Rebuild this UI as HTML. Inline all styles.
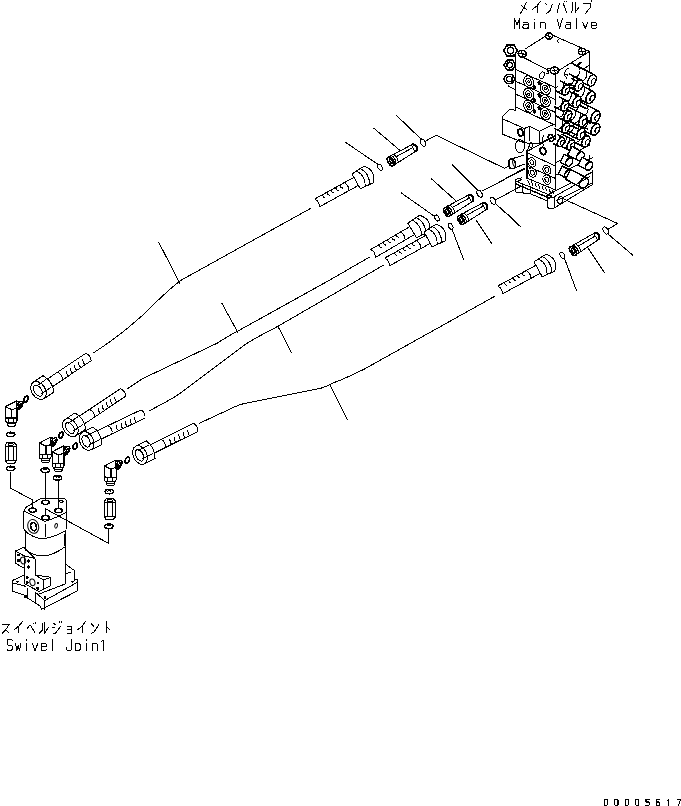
<!DOCTYPE html>
<html><head><meta charset="utf-8"><style>
html,body{margin:0;padding:0;background:#fff;width:681px;height:806px;overflow:hidden;font-family:"Liberation Sans",sans-serif;}
svg{display:block;}
</style></head><body>
<svg width="681" height="806" viewBox="0 0 681 806">
<g fill="none" stroke="#000" stroke-width="1" stroke-linecap="round" stroke-linejoin="round" shape-rendering="crispEdges">
<path d="M310.6,208.4 L181.6,279.9 C174,285 160,298 142.9,315 C128,328 118,337 93.5,352.8"/>
<path d="M369.7,257 L330,279.9 L238,331 C230,335 224,339 216.9,343.3 L142.9,378.5 L127,389"/>
<path d="M383.8,265 L278.6,325.9 C262,335 252,339 242,347 L180,393.5 C172,399 162,404 149.9,410.5"/>
<path d="M494.5,296.4 L363.9,369.3 C352,375 346,378 340.4,380.1 C332,383 328,386 321.6,388 L246.4,403.1 C241,404 238,405 234.6,406.9 L199.4,423.3"/>
<path d="M158.7,242.2 L179.9,283.4"/>
<path d="M222,303.5 L238,332.7"/>
<path d="M278.5,327.4 L291.6,352.8"/>
<path d="M329.6,384.3 L347.4,419.6"/>
<path d="M33,382.4 L43,375.7 L49.2,377.8 L85.9,353.2 L91.1,360.8 L54.4,385.4 L53.9,392 L44,398.6 Z" fill="#fff" stroke="none"/>
<ellipse cx="38.5" cy="390.5" rx="6.8" ry="9.8" transform="rotate(-33.8 38.5 390.5)" fill="#fff"/>
<ellipse cx="38" cy="390.8" rx="3.6" ry="6.2" transform="rotate(-33.8 38 390.8)"/>
<path d="M33,382.4 L43,375.7"/>
<path d="M44,398.6 L53.9,392"/>
<path d="M36.6,385.9 L45.7,379.7"/>
<path d="M41.8,393.6 L50.9,387.5"/>
<path d="M43,375.7 Q52.6,381 53.9,392"/>
<path d="M47.6,378.9 L57.5,372.2"/>
<path d="M52.7,386.5 L62.7,379.8"/>
<path d="M57.5,372.2 L85.9,353.2"/>
<path d="M62.7,379.8 L91.1,360.8"/>
<path d="M57.5,372.2 Q62.6,374.4 62.7,379.8"/>
<path d="M85.9,353.2 Q91,355.3 91.1,360.8"/>
<path d="M68.5,376 L66.8,374 L66.1,370.9"/>
<path d="M72.6,373.2 L71,371.3 L70.2,368.2"/>
<path d="M76.8,370.4 L75.1,368.5 L74.4,365.4"/>
<path d="M80.9,367.6 L79.3,365.7 L78.5,362.6"/>
<path d="M85.1,364.8 L83.5,362.9 L82.7,359.8"/>
<path d="M64.9,419.6 L74.9,412.9 L81.1,415 L120.4,388.7 L125.6,396.3 L86.3,422.6 L85.8,429.2 L75.9,435.8 Z" fill="#fff" stroke="none"/>
<ellipse cx="70.4" cy="427.7" rx="6.8" ry="9.8" transform="rotate(-33.8 70.4 427.7)" fill="#fff"/>
<ellipse cx="69.9" cy="428" rx="3.6" ry="6.2" transform="rotate(-33.8 69.9 428)"/>
<path d="M64.9,419.6 L74.9,412.9"/>
<path d="M75.9,435.8 L85.8,429.2"/>
<path d="M68.5,423.1 L77.6,417"/>
<path d="M73.7,430.8 L82.8,424.7"/>
<path d="M74.9,412.9 Q84.5,418.2 85.8,429.2"/>
<path d="M79.5,416.1 L89.4,409.4"/>
<path d="M84.6,423.7 L94.6,417.1"/>
<path d="M89.4,409.4 L120.4,388.7"/>
<path d="M94.6,417.1 L125.6,396.3"/>
<path d="M89.4,409.4 Q94.5,411.6 94.6,417.1"/>
<path d="M120.4,388.7 Q125.5,390.8 125.6,396.3"/>
<path d="M100.4,413.2 L98.7,411.3 L98,408.2"/>
<path d="M104.5,410.4 L102.9,408.5 L102.1,405.4"/>
<path d="M108.7,407.6 L107.1,405.7 L106.3,402.6"/>
<path d="M112.9,404.8 L111.2,402.9 L110.5,399.8"/>
<path d="M117,402 L115.4,400.1 L114.6,397"/>
<path d="M82.4,432.2 L93.2,427 L99,429.9 L141,409.9 L145,418.1 L103,438.2 L101.7,444.7 L90.8,449.8 Z" fill="#fff" stroke="none"/>
<ellipse cx="86.6" cy="441" rx="6.8" ry="9.8" transform="rotate(-25.6 86.6 441)" fill="#fff"/>
<ellipse cx="86.1" cy="441.3" rx="3.6" ry="6.2" transform="rotate(-25.6 86.1 441.3)"/>
<path d="M82.4,432.2 L93.2,427"/>
<path d="M90.8,449.8 L101.7,444.7"/>
<path d="M85.4,436.1 L95.3,431.4"/>
<path d="M89.4,444.5 L99.3,439.8"/>
<path d="M93.2,427 Q101.9,433.7 101.7,444.7"/>
<path d="M97.2,430.8 L108.1,425.6"/>
<path d="M101.2,439.1 L112,433.9"/>
<path d="M108.1,425.6 L141,409.9"/>
<path d="M112,433.9 L145,418.1"/>
<path d="M108.1,425.6 Q112.8,428.5 112,433.9"/>
<path d="M141,409.9 Q145.7,412.7 145,418.1"/>
<path d="M118.4,430.9 L117,428.8 L116.7,425.6"/>
<path d="M122.9,428.7 L121.5,426.6 L121.2,423.4"/>
<path d="M127.4,426.6 L126,424.5 L125.7,421.3"/>
<path d="M131.9,424.4 L130.5,422.3 L130.2,419.1"/>
<path d="M136.4,422.3 L135,420.1 L134.7,417"/>
<path d="M135.7,446.2 L146.4,440.9 L152.3,443.8 L193.6,423.4 L197.6,431.6 L156.4,452 L155.1,458.5 L144.3,463.8 Z" fill="#fff" stroke="none"/>
<ellipse cx="140" cy="455" rx="6.8" ry="9.8" transform="rotate(-26.3 140 455)" fill="#fff"/>
<ellipse cx="139.5" cy="455.3" rx="3.6" ry="6.2" transform="rotate(-26.3 139.5 455.3)"/>
<path d="M135.7,446.2 L146.4,440.9"/>
<path d="M144.3,463.8 L155.1,458.5"/>
<path d="M138.7,450.2 L148.6,445.3"/>
<path d="M142.9,458.5 L152.7,453.6"/>
<path d="M146.4,440.9 Q155.2,447.5 155.1,458.5"/>
<path d="M150.5,444.7 L161.3,439.3"/>
<path d="M154.6,452.9 L165.3,447.6"/>
<path d="M161.3,439.3 L193.6,423.4"/>
<path d="M165.3,447.6 L197.6,431.6"/>
<path d="M161.3,439.3 Q166,442.1 165.3,447.6"/>
<path d="M193.6,423.4 Q198.3,426.2 197.6,431.6"/>
<path d="M171.6,444.5 L170.2,442.4 L169.9,439.2"/>
<path d="M176.1,442.3 L174.7,440.2 L174.4,437"/>
<path d="M180.6,440.1 L179.2,438 L178.9,434.8"/>
<path d="M185.1,437.8 L183.7,435.7 L183.3,432.6"/>
<path d="M189.5,435.6 L188.2,433.5 L187.8,430.3"/>
<path d="M373,182.9 L373.6,171.7 L363.8,166.3 L351.5,173 L353.9,177.3 L314.8,199 L319.2,207 L358.4,185.4 L360.7,189.7 Z" fill="#fff" stroke="none"/>
<path d="M373,182.9 Q376.3,170.2 363.8,166.3"/>
<path d="M373,182.9 L360.3,188.8"/>
<path d="M363.8,166.3 L352,173.9"/>
<path d="M369.3,184.6 Q370.1,173.6 360.4,168.5"/>
<path d="M365.2,186.4 Q365.8,176 356.7,171"/>
<path d="M360.3,188.8 L352,173.9"/>
<path d="M358.4,185.4 L319.2,207"/>
<path d="M353.9,177.3 L314.8,199"/>
<path d="M348.7,190.7 Q349.1,185.2 344.3,182.7"/>
<path d="M319.2,207 Q319.6,201.5 314.8,199"/>
<path d="M339.9,185.1 L340.8,187.2 L342.5,188"/>
<path d="M335.5,187.5 L336.5,189.6 L338.1,190.4"/>
<path d="M331.1,189.9 L332.1,192 L333.8,192.8"/>
<path d="M326.8,192.3 L327.7,194.4 L329.4,195.2"/>
<path d="M322.4,194.8 L323.3,196.9 L325,197.6"/>
<path d="M429.1,231.7 L429.5,220.4 L419.5,215.3 L407.4,222.3 L409.9,226.6 L370.7,249.5 L375.3,257.5 L414.6,234.5 L417,238.7 Z" fill="#fff" stroke="none"/>
<path d="M429.1,231.7 Q432.1,218.9 419.5,215.3"/>
<path d="M429.1,231.7 L416.5,237.9"/>
<path d="M419.5,215.3 L407.9,223.2"/>
<path d="M425.5,233.4 Q426,222.5 416.2,217.5"/>
<path d="M421.4,235.4 Q421.7,225 412.5,220.1"/>
<path d="M416.5,237.9 L407.9,223.2"/>
<path d="M414.6,234.5 L375.3,257.5"/>
<path d="M409.9,226.6 L370.7,249.5"/>
<path d="M405.1,240.1 Q405.3,234.6 400.4,232.1"/>
<path d="M375.3,257.5 Q375.6,252 370.7,249.5"/>
<path d="M396.1,234.7 L397.1,236.7 L398.8,237.5"/>
<path d="M391.8,237.2 L392.8,239.3 L394.5,240"/>
<path d="M387.5,239.7 L388.5,241.8 L390.2,242.5"/>
<path d="M383.2,242.2 L384.1,244.3 L385.8,245.1"/>
<path d="M378.8,244.8 L379.8,246.8 L381.5,247.6"/>
<path d="M445,240.9 L445.6,229.7 L435.8,224.3 L423.5,231 L425.9,235.3 L384.8,258 L389.2,266 L430.3,243.4 L432.7,247.7 Z" fill="#fff" stroke="none"/>
<path d="M445,240.9 Q448.3,228.2 435.8,224.3"/>
<path d="M445,240.9 L432.2,246.8"/>
<path d="M435.8,224.3 L424,231.9"/>
<path d="M441.3,242.6 Q442.1,231.6 432.4,226.4"/>
<path d="M437.2,244.4 Q437.8,234 428.7,229"/>
<path d="M432.2,246.8 L424,231.9"/>
<path d="M430.3,243.4 L389.2,266"/>
<path d="M425.9,235.3 L384.8,258"/>
<path d="M420.7,248.7 Q421.1,243.2 416.3,240.6"/>
<path d="M389.2,266 Q389.6,260.6 384.8,258"/>
<path d="M411.9,243 L412.8,245.1 L414.5,245.9"/>
<path d="M407.5,245.4 L408.4,247.6 L410.1,248.3"/>
<path d="M403.1,247.9 L404.1,250 L405.7,250.8"/>
<path d="M398.7,250.3 L399.7,252.4 L401.4,253.2"/>
<path d="M394.4,252.7 L395.3,254.8 L397,255.6"/>
<path d="M554.9,271 L555.7,259.7 L545.9,254.3 L533.6,261 L535.9,265.3 L497.8,286 L502.2,294 L540.3,273.3 L542.6,277.6 Z" fill="#fff" stroke="none"/>
<path d="M554.9,271 Q558.3,258.3 545.9,254.3"/>
<path d="M554.9,271 L542.2,276.8"/>
<path d="M545.9,254.3 L534,261.8"/>
<path d="M551.3,272.6 Q552.2,261.7 542.5,256.4"/>
<path d="M547.1,274.4 Q547.8,264 538.7,258.9"/>
<path d="M542.2,276.8 L534,261.8"/>
<path d="M540.3,273.3 L502.2,294"/>
<path d="M535.9,265.3 L497.8,286"/>
<path d="M530.6,278.6 Q531.1,273.1 526.2,270.5"/>
<path d="M502.2,294 Q502.6,288.6 497.8,286"/>
<path d="M521.8,272.9 L522.8,275 L524.4,275.8"/>
<path d="M517.4,275.3 L518.4,277.4 L520.1,278.2"/>
<path d="M513.1,277.7 L514,279.8 L515.7,280.6"/>
<path d="M508.7,280.1 L509.6,282.2 L511.3,283"/>
<path d="M504.3,282.4 L505.2,284.6 L506.9,285.4"/>
<ellipse cx="390.7" cy="161.4" rx="2.6" ry="4.9" transform="rotate(-30.1 390.7 161.4)" stroke-width="1.8"/>
<ellipse cx="391" cy="161.2" rx="1.2" ry="2.4" transform="rotate(-30.1 391 161.2)" stroke-width="1.6"/>
<path d="M391.3,155.5 Q395.9,158.4 396.1,163.8" stroke-width="1.2"/>
<path d="M393.6,154.4 Q398.1,157.1 398.2,162.4"/>
<path d="M388.2,157.2 L412.6,144.3"/>
<path d="M393.2,165.6 L416.4,150.9"/>
<path d="M396.1,156.8 L412.3,147.9"/>
<path d="M412.6,144.3 Q418.4,145.3 416.4,150.9" stroke-width="2.2"/>
<path d="M411.3,145.1 L415.1,151.6"/>
<ellipse cx="447" cy="212" rx="2.6" ry="4.9" transform="rotate(-30.3 447 212)" stroke-width="1.8"/>
<ellipse cx="447.3" cy="211.8" rx="1.2" ry="2.4" transform="rotate(-30.3 447.3 211.8)" stroke-width="1.6"/>
<path d="M447.6,206.1 Q452.2,209 452.4,214.4" stroke-width="1.2"/>
<path d="M449.9,205 Q454.3,207.7 454.5,213"/>
<path d="M444.5,207.8 L469.1,194.7"/>
<path d="M449.5,216.2 L472.9,201.3"/>
<path d="M452.4,207.4 L468.8,198.3"/>
<path d="M469.1,194.7 Q474.9,195.7 472.9,201.3" stroke-width="2.2"/>
<path d="M467.8,195.5 L471.6,202"/>
<ellipse cx="461" cy="220" rx="2.6" ry="4.9" transform="rotate(-30.3 461 220)" stroke-width="1.8"/>
<ellipse cx="461.3" cy="219.8" rx="1.2" ry="2.4" transform="rotate(-30.3 461.3 219.8)" stroke-width="1.6"/>
<path d="M461.6,214.1 Q466.2,217 466.4,222.4" stroke-width="1.2"/>
<path d="M463.9,213 Q468.3,215.7 468.5,221"/>
<path d="M458.5,215.8 L483.1,202.7"/>
<path d="M463.5,224.2 L486.9,209.3"/>
<path d="M466.4,215.4 L482.8,206.3"/>
<path d="M483.1,202.7 Q488.9,203.7 486.9,209.3" stroke-width="2.2"/>
<path d="M481.8,203.5 L485.6,210"/>
<ellipse cx="573" cy="251" rx="2.6" ry="4.9" transform="rotate(-32 573 251)" stroke-width="1.8"/>
<ellipse cx="573.3" cy="250.8" rx="1.2" ry="2.4" transform="rotate(-32 573.3 250.8)" stroke-width="1.6"/>
<path d="M573.4,245.1 Q578.1,247.8 578.5,253.2" stroke-width="1.2"/>
<path d="M575.6,243.9 Q580.2,246.5 580.5,251.7"/>
<path d="M570.4,246.8 L595,232.8"/>
<path d="M575.6,255.2 L599,239.2"/>
<path d="M578.3,246.2 L594.8,236.3"/>
<path d="M595,232.8 Q600.8,233.6 599,239.2" stroke-width="2.2"/>
<path d="M593.7,233.6 L597.7,240"/>
<ellipse cx="423" cy="142.6" rx="2.3" ry="3.9" transform="rotate(-30 423 142.6)"/>
<ellipse cx="380" cy="167.3" rx="2" ry="3.3" transform="rotate(-30 380 167.3)"/>
<ellipse cx="437" cy="218" rx="2" ry="3.3" transform="rotate(-30 437 218)"/>
<ellipse cx="479.6" cy="193.7" rx="2.3" ry="3.9" transform="rotate(-30 479.6 193.7)"/>
<ellipse cx="492.9" cy="200.8" rx="2.3" ry="3.9" transform="rotate(-30 492.9 200.8)"/>
<ellipse cx="450.6" cy="226.3" rx="2" ry="3.3" transform="rotate(-30 450.6 226.3)"/>
<ellipse cx="605.7" cy="230.5" rx="2.3" ry="3.9" transform="rotate(-30 605.7 230.5)"/>
<ellipse cx="562.3" cy="255.2" rx="2" ry="3.3" transform="rotate(-30 562.3 255.2)"/>
<path d="M396.2,115.1 L420.5,138.6"/>
<path d="M426,140.8 L436.2,135.3 L504.3,168.2 L510.5,165.5"/>
<path d="M374,128.4 L399.5,150"/>
<path d="M345,142 L377.9,164.3"/>
<path d="M401.4,193 L435,216.7"/>
<path d="M431.4,178.8 L456,200.8"/>
<path d="M452.3,164.7 L477.9,190.2"/>
<path d="M482.3,191 L524.6,169"/>
<path d="M495.5,200 L521.3,186"/>
<path d="M496.4,204.3 L521,227.2"/>
<path d="M476,220 L492,244"/>
<path d="M440,186.7 L455.9,200.8"/>
<path d="M452.3,229.9 L463.8,260"/>
<path d="M500,208 L514,219.7"/>
<path d="M500,181.6 L524.2,168.4"/>
<path d="M563.4,198.8 L617.5,223.5 L608,229.3"/>
<path d="M608,234 L632.8,255.2"/>
<path d="M588,248 L604.6,272.8"/>
<path d="M564.6,258.7 L576.4,290.4"/>
<path d="M5.3,406.8 L9.4,404.4 L16.5,400.9 L21.7,404.9 L21.7,408 L17,410.9 L17,420.3 L16.5,422 L15.3,426.1 L7,426.1 L5.9,422 L5.3,421.4 Z" fill="#fff" stroke="none"/>
<path d="M5.3,421.4 L5.3,406.8 L9.4,404.4 L16.5,400.9 L18.8,401.5" stroke-width="1.2"/>
<path d="M5.3,406.8 L11.8,409.7 L17,408 L18.3,406.9" stroke-width="1.2"/>
<path d="M11.8,409.7 L11.8,417.7" stroke-width="1.2"/>
<path d="M17,410.3 L17,420.3" stroke-width="1.2"/>
<ellipse cx="19.7" cy="405.5" rx="2.4" ry="4.6" transform="rotate(30 19.7 405.5)" stroke-width="1.4" fill="#fff"/>
<path d="M17.1,401.3 Q15.5,405.4 17.9,409.7" stroke-width="1.4"/>
<path d="M18.5,401.1 Q17.1,405.4 19.3,409.7"/>
<ellipse cx="20.3" cy="405.3" rx="0.8" ry="2" transform="rotate(30 20.3 405.3)" stroke-width="1.2"/>
<path d="M19.8,408.4 L17,410.5"/>
<path d="M5.3,417.3 L6.3,417.9 L17,417.9 L17,417.3" stroke-width="1.2"/>
<path d="M5.3,421.4 L6.5,422.2 L16.1,422.2 L17,420.3" stroke-width="1.2"/>
<path d="M8.5,418.1 L8.5,421.9"/>
<path d="M13.5,418.1 L13.5,421.9"/>
<path d="M7,422.2 L7.3,425.2 L8.3,426.1 L14.3,426.1 L15.3,425.2 L15.3,422.2" stroke-width="1.2"/>
<path d="M7.3,423.9 L15.3,423.9"/>
<path d="M39.4,443.2 L43.5,440.8 L50.6,437.3 L55.8,441.3 L55.8,444.4 L51.1,447.3 L51.1,456.7 L50.6,458.4 L49.4,462.5 L41.1,462.5 L40,458.4 L39.4,457.8 Z" fill="#fff" stroke="none"/>
<path d="M39.4,457.8 L39.4,443.2 L43.5,440.8 L50.6,437.3 L52.9,437.9" stroke-width="1.2"/>
<path d="M39.4,443.2 L45.9,446.1 L51.1,444.4 L52.4,443.3" stroke-width="1.2"/>
<path d="M45.9,446.1 L45.9,454.1" stroke-width="1.2"/>
<path d="M51.1,446.7 L51.1,456.7" stroke-width="1.2"/>
<ellipse cx="53.8" cy="441.9" rx="2.4" ry="4.6" transform="rotate(30 53.8 441.9)" stroke-width="1.4" fill="#fff"/>
<path d="M51.2,437.7 Q49.6,441.8 52,446.1" stroke-width="1.4"/>
<path d="M52.6,437.5 Q51.2,441.8 53.4,446.1"/>
<ellipse cx="54.4" cy="441.7" rx="0.8" ry="2" transform="rotate(30 54.4 441.7)" stroke-width="1.2"/>
<path d="M53.9,444.8 L51.1,446.9"/>
<path d="M39.4,453.7 L40.4,454.3 L51.1,454.3 L51.1,453.7" stroke-width="1.2"/>
<path d="M39.4,457.8 L40.6,458.6 L50.2,458.6 L51.1,456.7" stroke-width="1.2"/>
<path d="M42.6,454.5 L42.6,458.3"/>
<path d="M47.6,454.5 L47.6,458.3"/>
<path d="M41.1,458.6 L41.4,461.6 L42.4,462.5 L48.4,462.5 L49.4,461.6 L49.4,458.6" stroke-width="1.2"/>
<path d="M41.4,460.3 L49.4,460.3"/>
<path d="M52.3,452 L56.4,449.6 L63.5,446.1 L68.7,450.1 L68.7,453.2 L64,456.1 L64,465.5 L63.5,467.2 L62.3,471.3 L54,471.3 L52.9,467.2 L52.3,466.6 Z" fill="#fff" stroke="none"/>
<path d="M52.3,466.6 L52.3,452 L56.4,449.6 L63.5,446.1 L65.8,446.7" stroke-width="1.2"/>
<path d="M52.3,452 L58.8,454.9 L64,453.2 L65.3,452.1" stroke-width="1.2"/>
<path d="M58.8,454.9 L58.8,462.9" stroke-width="1.2"/>
<path d="M64,455.5 L64,465.5" stroke-width="1.2"/>
<ellipse cx="66.7" cy="450.7" rx="2.4" ry="4.6" transform="rotate(30 66.7 450.7)" stroke-width="1.4" fill="#fff"/>
<path d="M64.1,446.5 Q62.5,450.6 64.9,454.9" stroke-width="1.4"/>
<path d="M65.5,446.3 Q64.1,450.6 66.3,454.9"/>
<ellipse cx="67.3" cy="450.5" rx="0.8" ry="2" transform="rotate(30 67.3 450.5)" stroke-width="1.2"/>
<path d="M66.8,453.6 L64,455.7"/>
<path d="M52.3,462.5 L53.3,463.1 L64,463.1 L64,462.5" stroke-width="1.2"/>
<path d="M52.3,466.6 L53.5,467.4 L63.1,467.4 L64,465.5" stroke-width="1.2"/>
<path d="M55.5,463.3 L55.5,467.1"/>
<path d="M60.5,463.3 L60.5,467.1"/>
<path d="M54,467.4 L54.3,470.4 L55.3,471.3 L61.3,471.3 L62.3,470.4 L62.3,467.4" stroke-width="1.2"/>
<path d="M54.3,469.1 L62.3,469.1"/>
<path d="M104.5,466.1 L108.6,463.7 L115.7,460.2 L120.9,464.2 L120.9,467.3 L116.2,470.2 L116.2,479.6 L115.7,481.3 L114.5,485.4 L106.2,485.4 L105.1,481.3 L104.5,480.7 Z" fill="#fff" stroke="none"/>
<path d="M104.5,480.7 L104.5,466.1 L108.6,463.7 L115.7,460.2 L118,460.8" stroke-width="1.2"/>
<path d="M104.5,466.1 L111,469 L116.2,467.3 L117.5,466.2" stroke-width="1.2"/>
<path d="M111,469 L111,477" stroke-width="1.2"/>
<path d="M116.2,469.6 L116.2,479.6" stroke-width="1.2"/>
<ellipse cx="118.9" cy="464.8" rx="2.4" ry="4.6" transform="rotate(30 118.9 464.8)" stroke-width="1.4" fill="#fff"/>
<path d="M116.3,460.6 Q114.7,464.7 117.1,469" stroke-width="1.4"/>
<path d="M117.7,460.4 Q116.3,464.7 118.5,469"/>
<ellipse cx="119.5" cy="464.6" rx="0.8" ry="2" transform="rotate(30 119.5 464.6)" stroke-width="1.2"/>
<path d="M119,467.7 L116.2,469.8"/>
<path d="M104.5,476.6 L105.5,477.2 L116.2,477.2 L116.2,476.6" stroke-width="1.2"/>
<path d="M104.5,480.7 L105.7,481.5 L115.3,481.5 L116.2,479.6" stroke-width="1.2"/>
<path d="M107.7,477.4 L107.7,481.2"/>
<path d="M112.7,477.4 L112.7,481.2"/>
<path d="M106.2,481.5 L106.5,484.5 L107.5,485.4 L113.5,485.4 L114.5,484.5 L114.5,481.5" stroke-width="1.2"/>
<path d="M106.5,483.2 L114.5,483.2"/>
<ellipse cx="25.9" cy="399.1" rx="1.9" ry="3.2" transform="rotate(25 25.9 399.1)" stroke-width="1.7"/>
<ellipse cx="61.1" cy="435" rx="1.9" ry="3.2" transform="rotate(25 61.1 435)" stroke-width="1.7"/>
<ellipse cx="75.2" cy="446.1" rx="1.9" ry="3.2" transform="rotate(25 75.2 446.1)" stroke-width="1.7"/>
<ellipse cx="127.3" cy="460.2" rx="1.9" ry="3.2" transform="rotate(25 127.3 460.2)" stroke-width="1.7"/>
<ellipse cx="10.6" cy="434.4" rx="4.2" ry="2.2" stroke-width="1.5"/>
<path d="M9.1,433.9 L10.6,432.8 L12.1,433.9" stroke-width="1.2"/>
<ellipse cx="10.6" cy="468.4" rx="4.2" ry="2.2" stroke-width="1.5"/>
<path d="M9.1,467.9 L10.6,466.8 L12.1,467.9" stroke-width="1.2"/>
<ellipse cx="45.2" cy="470.2" rx="4.2" ry="2.2" stroke-width="1.5"/>
<path d="M43.7,469.7 L45.2,468.6 L46.7,469.7" stroke-width="1.2"/>
<ellipse cx="57.6" cy="477.8" rx="4.2" ry="2.2" stroke-width="1.5"/>
<path d="M56.1,477.3 L57.6,476.2 L59.1,477.3" stroke-width="1.2"/>
<ellipse cx="109.3" cy="491.6" rx="4.2" ry="2.2" stroke-width="1.5"/>
<path d="M107.8,491.1 L109.3,490 L110.8,491.1" stroke-width="1.2"/>
<ellipse cx="108.8" cy="526.3" rx="4.2" ry="2.2" stroke-width="1.5"/>
<path d="M107.3,525.8 L108.8,524.7 L110.3,525.8" stroke-width="1.2"/>
<path d="M5.3,445 L7.3,442.5 L14.3,442.5 L16.3,445 L16.3,460.5 L14.3,463.5 L7.3,463.5 L5.3,460.5 Z" stroke-width="1.3"/>
<path d="M5.8,446.5 L15.8,446.5"/>
<path d="M8.3,446.5 L8.3,460"/>
<path d="M13.8,446.5 L13.8,460"/>
<path d="M6.3,460.5 L15.3,460.5"/>
<ellipse cx="10.8" cy="444.5" rx="2.5" ry="1.2"/>
<path d="M104.3,501.2 L106.3,498.7 L113.3,498.7 L115.3,501.2 L115.3,516.7 L113.3,519.7 L106.3,519.7 L104.3,516.7 Z" stroke-width="1.3"/>
<path d="M104.8,502.7 L114.8,502.7"/>
<path d="M107.3,502.7 L107.3,516.2"/>
<path d="M112.8,502.7 L112.8,516.2"/>
<path d="M105.3,516.7 L114.3,516.7"/>
<ellipse cx="109.8" cy="500.7" rx="2.5" ry="1.2"/>
<path d="M10.4,472 L10.4,488.1 L32.6,500 L32.6,507.6"/>
<path d="M45,473 L45,501"/>
<path d="M58.2,479.5 L58.2,508.5"/>
<path d="M45.5,515.3 L45.5,508.8 L108.8,543.5 L108.8,528.8"/>
<path d="M23.8,511.1 L25.6,507.6 L30.3,504.7 L40.2,498.8 L63.7,498.2 L66.7,500.6 L66.7,511.7"/>
<path d="M66.7,511.7 C64,514 61,516 44.9,521.5 L23.8,511.1"/>
<path d="M23.8,511.1 L23.2,527.6 C25,532 30,536 40.2,538.8 C48,539 56,536 64.9,531.1"/>
<path d="M66.7,511.7 L66.7,528.8"/>
<path d="M45.5,524 L45.5,536.4"/>
<ellipse cx="32.6" cy="510.2" rx="3.6" ry="2.1" stroke-width="1.4"/>
<ellipse cx="45.5" cy="502.3" rx="3.6" ry="2.1" stroke-width="1.4"/>
<ellipse cx="58.5" cy="510.6" rx="3.6" ry="2.1" stroke-width="1.4"/>
<ellipse cx="45.5" cy="517.6" rx="3.6" ry="2.1" stroke-width="1.4"/>
<ellipse cx="61.4" cy="501.2" rx="1.8" ry="1.2"/>
<ellipse cx="33.2" cy="526.4" rx="5.4" ry="7" transform="rotate(-15 33.2 526.4)"/>
<ellipse cx="33.6" cy="526.6" rx="2.8" ry="4.2" transform="rotate(-15 33.6 526.6)" stroke-width="1.8"/>
<ellipse cx="56.1" cy="525.8" rx="1.3" ry="2.4" transform="rotate(15 56.1 525.8)"/>
<path d="M25.4,532 L25.4,550.6"/>
<path d="M65.2,530 L65.2,583.6"/>
<path d="M64,534 L64,546"/>
<path d="M25.6,549 C30,554 36,556 43.6,556 C52,555 58,552 64.9,547"/>
<path d="M15.2,563.1 L15.2,551.2 L23.8,547.3 L35,558.5 L35,575 L50.9,577.3 L50.9,585.6 L39,591.5 L24.4,583.5 L24.4,568.4 L15.2,563.1"/>
<path d="M15.2,551.2 L24.5,556 L24.5,568.4"/>
<path d="M24.5,556 L35,558.5"/>
<path d="M35,575 L43.6,580 L50.9,577.3"/>
<path d="M43.6,580 L43.6,590"/>
<ellipse cx="23.1" cy="560.5" rx="2.5" ry="3.4" transform="rotate(-15 23.1 560.5)"/>
<ellipse cx="32.4" cy="582.3" rx="2.5" ry="3.4" transform="rotate(-15 32.4 582.3)"/>
<ellipse cx="18.5" cy="560.5" rx="1" ry="1.2" fill="#000"/>
<ellipse cx="28.4" cy="561.1" rx="1" ry="1.2" fill="#000"/>
<ellipse cx="28.4" cy="567.1" rx="1" ry="1.2" fill="#000"/>
<ellipse cx="27.1" cy="577.7" rx="1" ry="1.2" fill="#000"/>
<ellipse cx="27.1" cy="582.3" rx="1" ry="1.2" fill="#000"/>
<ellipse cx="37.7" cy="588.2" rx="1" ry="1.2" fill="#000"/>
<ellipse cx="18.5" cy="555.2" rx="0.8" ry="0.8"/>
<ellipse cx="37.7" cy="583" rx="0.8" ry="0.8"/>
<path d="M12.2,580.6 L23.9,575.3"/>
<path d="M12.2,580.6 L12.2,591.2 L23.9,594.9 L26,597 L40.2,606 L41.8,609.2 L77.8,590.7 L77.8,580.1 L74.6,579"/>
<path d="M12.2,582.7 L26,586.4"/>
<path d="M27.6,588.5 L27.6,597.5"/>
<path d="M35,592 L35,602"/>
<path d="M44.5,600.7 L44.5,609.7"/>
<path d="M39.7,593.8 L65.2,584"/>
<path d="M35,592 L40.8,597 L44.5,600.7 L76.7,582.7"/>
<path d="M65.6,564.2 L74.6,570.6 L74.6,580.1"/>
<path d="M65.6,573.7 L70.4,572.2"/>
<ellipse cx="45" cy="597.5" rx="0.9" ry="0.9" fill="#000"/>
<ellipse cx="17.5" cy="581.7" rx="0.7" ry="0.7" fill="#000"/>
<ellipse cx="72.5" cy="581.7" rx="0.7" ry="0.7" fill="#000"/>
<ellipse cx="25.4" cy="596.5" rx="1" ry="1" fill="#000"/>
<path d="M525.2,49 L544.6,36.7"/>
<path d="M553.4,35.5 L589.6,51.5"/>
<path d="M589.6,51.5 L557,71.5"/>
<path d="M550,71.1 L524.4,57.9"/>
<path d="M515.4,54.7 L515.4,109" stroke-width="1.5"/>
<path d="M555.7,72 L555.7,190"/>
<path d="M589.6,51.5 L589.6,95"/>
<path d="M515.4,69.2 L555.7,87.9"/>
<path d="M555.7,87.9 L589.6,64.8"/>
<ellipse cx="542" cy="75.3" rx="2.2" ry="3.5" transform="rotate(20 542 75.3)"/>
<path d="M549.5,68.5 L547,68.5 L547,71 L549,71.5 L548.5,73.5 L546.5,73.5"/>
<ellipse cx="567.8" cy="72.9" rx="3" ry="4.5" transform="rotate(20 567.8 72.9)"/>
<path d="M581,62.5 Q577,64 578,68 Q579,69 581,68" stroke-width="2"/>
<path d="M559,39.5 Q556.5,41 558.5,42.5"/>
<path d="M515.4,81.1 L555.7,99.6"/>
<path d="M515.4,94 L555.7,112.5"/>
<path d="M515.4,106.9 L555.7,125.4"/>
<ellipse cx="528.7" cy="81.9" rx="4.8" ry="6.3" transform="rotate(-25 528.7 81.9)"/>
<ellipse cx="528.7" cy="81.9" rx="2.6" ry="3.7" transform="rotate(-25 528.7 81.9)"/>
<ellipse cx="528.7" cy="81.9" rx="0.8" ry="1.3" transform="rotate(-25 528.7 81.9)"/>
<ellipse cx="528.7" cy="94.4" rx="4.8" ry="6.3" transform="rotate(-25 528.7 94.4)"/>
<ellipse cx="528.7" cy="94.4" rx="2.6" ry="3.7" transform="rotate(-25 528.7 94.4)"/>
<ellipse cx="528.7" cy="94.4" rx="0.8" ry="1.3" transform="rotate(-25 528.7 94.4)"/>
<ellipse cx="528.7" cy="106.1" rx="4.8" ry="6.3" transform="rotate(-25 528.7 106.1)"/>
<ellipse cx="528.7" cy="106.1" rx="2.6" ry="3.7" transform="rotate(-25 528.7 106.1)"/>
<ellipse cx="528.7" cy="106.1" rx="0.8" ry="1.3" transform="rotate(-25 528.7 106.1)"/>
<ellipse cx="545.3" cy="88.7" rx="4.8" ry="6.3" transform="rotate(-25 545.3 88.7)"/>
<ellipse cx="545.3" cy="88.7" rx="2.6" ry="3.7" transform="rotate(-25 545.3 88.7)"/>
<ellipse cx="545.3" cy="88.7" rx="0.8" ry="1.3" transform="rotate(-25 545.3 88.7)"/>
<ellipse cx="545.3" cy="100.8" rx="4.8" ry="6.3" transform="rotate(-25 545.3 100.8)"/>
<ellipse cx="545.3" cy="100.8" rx="2.6" ry="3.7" transform="rotate(-25 545.3 100.8)"/>
<ellipse cx="545.3" cy="100.8" rx="0.8" ry="1.3" transform="rotate(-25 545.3 100.8)"/>
<ellipse cx="545.3" cy="113.8" rx="4.8" ry="6.3" transform="rotate(-25 545.3 113.8)"/>
<ellipse cx="545.3" cy="113.8" rx="2.6" ry="3.7" transform="rotate(-25 545.3 113.8)"/>
<ellipse cx="545.3" cy="113.8" rx="0.8" ry="1.3" transform="rotate(-25 545.3 113.8)"/>
<ellipse cx="534.3" cy="87.1" rx="1.1" ry="1.8" transform="rotate(-25 534.3 87.1)" stroke-width="1.2" fill="#000"/>
<ellipse cx="534.3" cy="100" rx="1.1" ry="1.8" transform="rotate(-25 534.3 100)" stroke-width="1.2" fill="#000"/>
<ellipse cx="534.3" cy="111.3" rx="1.1" ry="1.8" transform="rotate(-25 534.3 111.3)" stroke-width="1.2" fill="#000"/>
<ellipse cx="539.2" cy="83.1" rx="1.1" ry="1.8" transform="rotate(-25 539.2 83.1)" stroke-width="1.2" fill="#000"/>
<ellipse cx="539.2" cy="95.2" rx="1.1" ry="1.8" transform="rotate(-25 539.2 95.2)" stroke-width="1.2" fill="#000"/>
<ellipse cx="539.2" cy="108.1" rx="1.1" ry="1.8" transform="rotate(-25 539.2 108.1)" stroke-width="1.2" fill="#000"/>
<path d="M514.9,79 L512.1,83.6 L506.5,83.6 L503.7,79 L506.5,74.4 L512.1,74.4 Z" fill="#fff" stroke="#000" stroke-width="1.5"/>
<path d="M512,80.5 L509.3,81.9 L506.6,80.5 L506.6,77.5 L509.3,76.1 L512,77.5 Z" fill="none" stroke="#000" stroke-width="1.2"/>
<path d="M506.5,74.5 L507.6,77.3"/>
<path d="M512.1,83.5 L511,80.7"/>
<path d="M515.6,65 L512.7,69.8 L506.9,69.8 L504,65 L506.9,60.2 L512.7,60.2 Z" fill="#fff" stroke="#000" stroke-width="1.5"/>
<path d="M512.6,66.5 L509.8,68 L507,66.5 L507,63.5 L509.8,62 L512.6,63.5 Z" fill="none" stroke="#000" stroke-width="1.2"/>
<path d="M506.9,60.4 L508.1,63.3"/>
<path d="M512.7,69.6 L511.5,66.7"/>
<path d="M508.5,86 L515.4,90"/>
<path d="M517.3,50.5 L513.9,56.1 L507.1,56.1 L503.7,50.5 L507.1,44.9 L513.9,44.9 Z" fill="#fff" stroke="#000" stroke-width="1.6"/>
<path d="M513.7,52.3 L510.5,54.1 L507.3,52.3 L507.3,48.7 L510.5,46.9 L513.7,48.7 Z" fill="none" stroke="#000" stroke-width="1.2"/>
<path d="M507.1,45.1 L508.5,48.5"/>
<path d="M513.9,55.9 L512.5,52.5"/>
<ellipse cx="522.2" cy="53.8" rx="4" ry="3.4" stroke-width="1.6" fill="#fff"/>
<path d="M520,53.5 L524.4,54.1" stroke-width="1.2"/>
<path d="M521.4,51.4 L523,56.2"/>
<ellipse cx="548.9" cy="36.1" rx="3.6" ry="3.1" stroke-width="1.6" fill="#fff"/>
<path d="M546.9,35.8 L550.9,36.4" stroke-width="1.2"/>
<path d="M548.2,33.9 L549.6,38.3"/>
<ellipse cx="582" cy="51.5" rx="3.6" ry="3.1" stroke-width="1.6" fill="#fff"/>
<path d="M580,51.2 L584,51.8" stroke-width="1.2"/>
<path d="M581.3,49.3 L582.7,53.7"/>
<ellipse cx="554.4" cy="70.5" rx="4" ry="3.4" stroke-width="1.6" fill="#fff"/>
<path d="M552.2,70.2 L556.6,70.8" stroke-width="1.2"/>
<path d="M553.6,68.1 L555.2,72.9"/>
<path d="M502.4,116.5 L509.3,109.7 L512.5,109.3 L515.4,110.5"/>
<path d="M502.4,116.5 L502.4,134.2 L524.4,143 L524.4,128.5 L502.4,118.8"/>
<path d="M524.4,128.5 L529.3,126.3 L539.4,131.2 L555.7,123.5"/>
<path d="M529.3,126.3 L529.3,141"/>
<path d="M539.4,131.2 L539.4,143.5"/>
<path d="M524.4,141.7 L529.3,144 L539.4,143.5 L555.7,135"/>
<ellipse cx="520.5" cy="132.5" rx="2.6" ry="3.6" transform="rotate(-20 520.5 132.5)" stroke-width="1.8"/>
<ellipse cx="520" cy="146.1" rx="4.5" ry="6.5"/>
<path d="M544,135 Q540,140 544,146"/>
<ellipse cx="551" cy="138" rx="2.6" ry="3.6" transform="rotate(-20 551 138)" stroke-width="1.5"/>
<path d="M527,151.4 L547.3,140.4 L555.7,136"/>
<path d="M529,146 L527,151.4"/>
<ellipse cx="543" cy="151" rx="2.8" ry="3.8" transform="rotate(-25 543 151)" stroke-width="1.8"/>
<ellipse cx="531" cy="145" rx="1.5" ry="2.5"/>
<path d="M526.6,151.4 L526.6,178" stroke-width="2"/>
<path d="M528,153.2 L556,166.4"/>
<path d="M528,166.4 L555.7,178.5"/>
<path d="M526.6,178 L555.7,190"/>
<ellipse cx="531.9" cy="162.4" rx="3.8" ry="4.8" transform="rotate(-25 531.9 162.4)"/>
<ellipse cx="531.9" cy="162.4" rx="1.8" ry="2.6" transform="rotate(-25 531.9 162.4)"/>
<ellipse cx="532.4" cy="172.6" rx="3.8" ry="4.8" transform="rotate(-25 532.4 172.6)"/>
<ellipse cx="532.4" cy="172.6" rx="1.8" ry="2.6" transform="rotate(-25 532.4 172.6)"/>
<ellipse cx="546.9" cy="169.9" rx="3.8" ry="4.8" transform="rotate(-25 546.9 169.9)"/>
<ellipse cx="546.9" cy="169.9" rx="1.8" ry="2.6" transform="rotate(-25 546.9 169.9)"/>
<ellipse cx="546.9" cy="179.6" rx="3.8" ry="4.8" transform="rotate(-25 546.9 179.6)"/>
<ellipse cx="546.9" cy="179.6" rx="1.8" ry="2.6" transform="rotate(-25 546.9 179.6)"/>
<path d="M512,158.8 L524,155"/>
<path d="M512,168.8 L525,164"/>
<ellipse cx="512" cy="163.8" rx="3.4" ry="5" transform="rotate(-15 512 163.8)" stroke-width="1.6" fill="#fff"/>
<path d="M509.5,160 Q508,164 510,168" stroke-width="1.6"/>
<ellipse cx="514" cy="163.3" rx="1.2" ry="3.2" transform="rotate(-15 514 163.3)"/>
<path d="M515.4,179.4 L521.3,177.9"/>
<path d="M515.4,179.4 L515.4,191.9 L530.8,194 L547,200.7"/>
<path d="M515.4,181 L548.5,194.5 L592.5,172"/>
<path d="M547,194 L547,207.3 L550,208.7 L554.3,208 L592.5,184.5 L592.5,172"/>
<path d="M522.8,183 L522.8,193"/>
<path d="M530.8,186 L530.8,194"/>
<path d="M554.3,197 L554.3,208"/>
<ellipse cx="560.2" cy="200" rx="2.5" ry="3.5" transform="rotate(20 560.2 200)"/>
<ellipse cx="549" cy="196.5" rx="2" ry="1.5" stroke-width="1.5"/>
<path d="M567.2,125.4 L588.6,136.3 L583.4,146.7 L562,135.8 Z" fill="#fff" stroke="none"/>
<path d="M567.2,125.4 L588.6,136.3" stroke-width="1.5"/>
<path d="M562,135.8 L583.4,146.7" stroke-width="1.5"/>
<path d="M581.1,132.5 Q582.6,139.8 575.9,142.9"/>
<path d="M574.7,129.2 Q576.2,136.5 569.5,139.6"/>
<ellipse cx="586" cy="141.5" rx="3.6" ry="5.8" transform="rotate(27 586 141.5)" stroke-width="1.5" fill="#fff"/>
<path d="M588.4,139.4 Q584.4,140.7 585.7,144.6" stroke-width="1.2"/>
<path d="M561.9,134.2 L573.5,140.1 L568.5,149.9 L556.9,144 Z" fill="#fff" stroke="none"/>
<path d="M561.9,134.2 L573.5,140.1" stroke-width="1.5"/>
<path d="M556.9,144 L568.5,149.9" stroke-width="1.5"/>
<path d="M569.4,138 Q570.9,144.9 564.4,147.8"/>
<path d="M566,136.3 Q567.4,143.2 561,146.1"/>
<ellipse cx="571" cy="145" rx="3.4" ry="5.5" transform="rotate(27 571 145)" stroke-width="1.5" fill="#fff"/>
<path d="M573.2,143 Q569.5,144.3 570.7,147.9" stroke-width="1.2"/>
<path d="M568,108.5 L598.3,124 L592.7,135 L562.4,119.6 Z" fill="#fff" stroke="none"/>
<path d="M568,108.5 L598.3,124" stroke-width="1.5"/>
<path d="M562.4,119.6 L592.7,135" stroke-width="1.5"/>
<path d="M587.7,118.6 Q589.3,126.3 582.1,129.6"/>
<path d="M578.6,113.9 Q580.2,121.7 573,125"/>
<path d="M590.5,123.5 L585.1,120.7" stroke-width="1.6"/>
<path d="M587.7,129 L582.3,126.3" stroke-width="1.6"/>
<ellipse cx="595.5" cy="129.5" rx="3.8" ry="6.2" transform="rotate(27 595.5 129.5)" stroke-width="1.5" fill="#fff"/>
<path d="M598,127.3 Q593.8,128.7 595.2,132.8" stroke-width="1.2"/>
<path d="M567.7,120.5 L583.7,128.7 L578.3,139.3 L562.2,131.2 Z" fill="#fff" stroke="none"/>
<path d="M567.7,120.5 L583.7,128.7" stroke-width="1.5"/>
<path d="M562.2,131.2 L578.3,139.3" stroke-width="1.5"/>
<path d="M578.1,125.8 Q579.7,133.3 572.7,136.5"/>
<path d="M573.3,123.3 Q574.9,130.9 567.9,134"/>
<path d="M577,128.6 L571.7,125.9" stroke-width="1.6"/>
<path d="M574.3,133.9 L568.9,131.2" stroke-width="1.6"/>
<ellipse cx="581" cy="134" rx="3.7" ry="6" transform="rotate(27 581 134)" stroke-width="1.5" fill="#fff"/>
<path d="M583.4,131.9 Q579.4,133.2 580.7,137.2" stroke-width="1.2"/>
<path d="M557.9,134.8 L563.3,137.5 L558.7,146.5 L553.4,143.7 Z" fill="#fff" stroke="none"/>
<path d="M557.9,134.8 L563.3,137.5" stroke-width="1.5"/>
<path d="M553.4,143.7 L558.7,146.5" stroke-width="1.5"/>
<path d="M561.4,136.6 Q562.7,142.9 556.9,145.5"/>
<path d="M559.8,135.8 Q561.1,142 555.3,144.7"/>
<ellipse cx="561" cy="142" rx="3.1" ry="5" transform="rotate(27 561 142)" stroke-width="1.5" fill="#fff"/>
<path d="M563,140.2 Q559.7,141.3 560.8,144.7" stroke-width="1.2"/>
<path d="M568.2,95.8 L598.5,111.2 L592.5,122.8 L562.3,107.4 Z" fill="#fff" stroke="none"/>
<path d="M568.2,95.8 L598.5,111.2" stroke-width="1.5"/>
<path d="M562.3,107.4 L592.5,122.8" stroke-width="1.5"/>
<path d="M587.8,105.8 Q589.5,114 581.9,117.4"/>
<path d="M578.8,101.2 Q580.4,109.3 572.9,112.8"/>
<path d="M586,108.5 L580.7,105.8" stroke-width="1.6"/>
<path d="M583.1,114.3 L577.7,111.6" stroke-width="1.6"/>
<ellipse cx="595.5" cy="117" rx="4" ry="6.5" transform="rotate(27 595.5 117)" stroke-width="1.5" fill="#fff"/>
<path d="M598.1,114.7 Q593.8,116.1 595.2,120.5" stroke-width="1.2"/>
<path d="M559.6,118.6 L568.5,123.1 L563.5,132.9 L554.6,128.4 Z" fill="#fff" stroke="none"/>
<path d="M559.6,118.6 L568.5,123.1" stroke-width="1.5"/>
<path d="M554.6,128.4 L563.5,132.9" stroke-width="1.5"/>
<path d="M565.4,121.5 Q566.8,128.4 560.4,131.3"/>
<path d="M562.7,120.1 Q564.1,127 557.7,129.9"/>
<ellipse cx="566" cy="128" rx="3.4" ry="5.5" transform="rotate(27 566 128)" stroke-width="1.5" fill="#fff"/>
<path d="M568.2,126 Q564.5,127.3 565.7,130.9" stroke-width="1.2"/>
<path d="M569.7,107.5 L585.7,115.7 L580.3,126.3 L564.2,118.2 Z" fill="#fff" stroke="none"/>
<path d="M569.7,107.5 L585.7,115.7" stroke-width="1.5"/>
<path d="M564.2,118.2 L580.3,126.3" stroke-width="1.5"/>
<path d="M580.1,112.8 Q581.7,120.3 574.7,123.5"/>
<path d="M575.3,110.3 Q576.9,117.9 569.9,121"/>
<ellipse cx="583" cy="121" rx="3.7" ry="6" transform="rotate(27 583 121)" stroke-width="1.5" fill="#fff"/>
<path d="M585.4,118.9 Q581.4,120.2 582.7,124.2" stroke-width="1.2"/>
<path d="M560.7,106.1 L570.5,111.1 L565.5,120.9 L555.7,115.9 Z" fill="#fff" stroke="none"/>
<path d="M560.7,106.1 L570.5,111.1" stroke-width="1.5"/>
<path d="M555.7,115.9 L565.5,120.9" stroke-width="1.5"/>
<path d="M567.1,109.4 Q568.5,116.2 562.1,119.2"/>
<path d="M564.1,107.9 Q565.5,114.8 559.1,117.7"/>
<ellipse cx="568" cy="116" rx="3.4" ry="5.5" transform="rotate(27 568 116)" stroke-width="1.5" fill="#fff"/>
<path d="M570.2,114 Q566.5,115.3 567.7,118.9" stroke-width="1.2"/>
<path d="M566.7,78.1 L593.5,91.7 L587.5,103.3 L560.8,89.7 Z" fill="#fff" stroke="none"/>
<path d="M566.7,78.1 L593.5,91.7" stroke-width="1.5"/>
<path d="M560.8,89.7 L587.5,103.3" stroke-width="1.5"/>
<path d="M584.1,86.9 Q585.8,95.1 578.2,98.5"/>
<path d="M576.1,82.9 Q577.8,91 570.2,94.4"/>
<path d="M581.3,89.2 L575.9,86.4" stroke-width="1.6"/>
<path d="M578.3,94.9 L573,92.2" stroke-width="1.6"/>
<ellipse cx="590.5" cy="97.5" rx="4" ry="6.5" transform="rotate(27 590.5 97.5)" stroke-width="1.5" fill="#fff"/>
<path d="M593.1,95.2 Q588.8,96.6 590.2,101" stroke-width="1.2"/>
<path d="M566.4,89.8 L579.7,96.7 L574.3,107.3 L560.9,100.5 Z" fill="#fff" stroke="none"/>
<path d="M566.4,89.8 L579.7,96.7" stroke-width="1.5"/>
<path d="M560.9,100.5 L574.3,107.3" stroke-width="1.5"/>
<path d="M575,94.3 Q576.6,101.8 569.6,105"/>
<path d="M571,92.2 Q572.6,99.8 565.6,102.9"/>
<ellipse cx="577" cy="102" rx="3.7" ry="6" transform="rotate(27 577 102)" stroke-width="1.5" fill="#fff"/>
<path d="M579.4,99.9 Q575.4,101.2 576.7,105.2" stroke-width="1.2"/>
<path d="M559.5,97 L567.5,101.1 L562.5,110.9 L554.5,106.8 Z" fill="#fff" stroke="none"/>
<path d="M559.5,97 L567.5,101.1" stroke-width="1.5"/>
<path d="M554.5,106.8 L562.5,110.9" stroke-width="1.5"/>
<path d="M564.7,99.7 Q566.1,106.6 559.7,109.5"/>
<path d="M562.3,98.4 Q563.7,105.3 557.3,108.2"/>
<ellipse cx="565" cy="106" rx="3.4" ry="5.5" transform="rotate(27 565 106)" stroke-width="1.5" fill="#fff"/>
<path d="M567.2,104 Q563.5,105.3 564.7,108.9" stroke-width="1.2"/>
<path d="M571.6,63.2 L594.8,75 L589.2,86 L566,74.2 Z" fill="#fff" stroke="none"/>
<path d="M571.6,63.2 L594.8,75" stroke-width="1.5"/>
<path d="M566,74.2 L589.2,86" stroke-width="1.5"/>
<path d="M586.7,70.8 Q588.3,78.6 581.1,81.9"/>
<path d="M579.8,67.3 Q581.4,75.1 574.1,78.4"/>
<ellipse cx="592" cy="80.5" rx="3.8" ry="6.2" transform="rotate(27 592 80.5)" stroke-width="1.5" fill="#fff"/>
<path d="M594.5,78.3 Q590.3,79.7 591.7,83.8" stroke-width="1.2"/>
<path d="M569.2,74 L581.6,80.3 L576.4,90.7 L563.9,84.3 Z" fill="#fff" stroke="none"/>
<path d="M569.2,74 L581.6,80.3" stroke-width="1.5"/>
<path d="M563.9,84.3 L576.4,90.7" stroke-width="1.5"/>
<path d="M577.3,78.1 Q578.8,85.4 572,88.4"/>
<path d="M573.5,76.2 Q575,83.5 568.3,86.5"/>
<path d="M576.8,81.1 L571.4,78.4" stroke-width="1.6"/>
<path d="M574.1,86.3 L568.8,83.5" stroke-width="1.6"/>
<ellipse cx="579" cy="85.5" rx="3.6" ry="5.8" transform="rotate(27 579 85.5)" stroke-width="1.5" fill="#fff"/>
<path d="M581.4,83.4 Q577.4,84.7 578.7,88.6" stroke-width="1.2"/>
<path d="M560.5,81 L568.5,85.1 L563.5,94.9 L555.5,90.8 Z" fill="#fff" stroke="none"/>
<path d="M560.5,81 L568.5,85.1" stroke-width="1.5"/>
<path d="M555.5,90.8 L563.5,94.9" stroke-width="1.5"/>
<path d="M565.7,83.7 Q567.1,90.6 560.7,93.5"/>
<path d="M563.3,82.4 Q564.7,89.3 558.3,92.2"/>
<ellipse cx="566" cy="90" rx="3.4" ry="5.5" transform="rotate(27 566 90)" stroke-width="1.5" fill="#fff"/>
<path d="M568.2,88 Q564.5,89.3 565.7,92.9" stroke-width="1.2"/>
<path d="M556,162.6 L589.6,145"/>
<path d="M589.6,155.3 L589.6,168.3"/>
<path d="M556,175 L592.4,158"/>
<path d="M592.4,170.3 L592.4,182.8 L556,201"/>
<path d="M567.6,154.9 L578.1,160.5 L582.7,152.1 L572.1,146.4 Z" fill="#fff" stroke="#000" stroke-width="1.5"/>
<ellipse cx="580.4" cy="156.3" rx="3.5" ry="4.8" transform="rotate(28 580.4 156.3)" stroke-width="1.5" fill="#fff"/>
<path d="M580.1,151.8 L578.7,154.3" stroke-width="1.2"/>
<path d="M560.1,162.1 L567.1,165.9 L571.3,158.1 L564.2,154.4 Z" fill="#fff" stroke="#000" stroke-width="1.5"/>
<ellipse cx="569.2" cy="162" rx="3.2" ry="4.4" transform="rotate(28 569.2 162)" stroke-width="1.5" fill="#fff"/>
<path d="M568.9,157.9 L567.7,160.2" stroke-width="1.2"/>
<path d="M578.1,165.2 L586.9,169.9 L591.1,162.1 L582.2,157.4 Z" fill="#fff" stroke="#000" stroke-width="1.5"/>
<ellipse cx="589" cy="166" rx="3.2" ry="4.4" transform="rotate(28 589 166)" stroke-width="1.5" fill="#fff"/>
<path d="M588.7,161.9 L587.5,164.2" stroke-width="1.2"/>
<path d="M558.3,173.9 L566.2,178.1 L570.4,170.3 L562.4,166.1 Z" fill="#fff" stroke="#000" stroke-width="1.5"/>
<ellipse cx="568.3" cy="174.2" rx="3.2" ry="4.4" transform="rotate(28 568.3 174.2)" stroke-width="1.5" fill="#fff"/>
<path d="M568,170.1 L566.8,172.4" stroke-width="1.2"/>
<path d="M565.5,179.2 L581.4,187.7 L586.6,177.9 L570.7,169.5 Z" fill="#fff" stroke="#000" stroke-width="1.5"/>
<ellipse cx="584" cy="182.8" rx="4" ry="5.5" transform="rotate(28 584 182.8)" stroke-width="1.5" fill="#fff"/>
<path d="M583.6,177.6 L582.1,180.5" stroke-width="1.2"/>
<path d="M516,184 L548,197.5" stroke-width="1.4"/>
<path d="M517,182 L521,179.5" stroke-width="1.4"/>
<path d="M548,197.5 L552,198 L590,176.5"/>
<path d="M528,180.6 L529.5,184.1"/>
<path d="M531.5,182 L533,185.5"/>
<path d="M535,183.4 L536.5,186.9"/>
<path d="M538.5,184.9 L540,188.4"/>
<path d="M542,186.3 L543.5,189.8"/>
<path d="M545.5,187.7 L547,191.2"/>
<path d="M549,189.2 L550.5,192.7"/>
<path d="M552.5,190.6 L554,194.1"/>
<path d="M514.4,28.4 L514.4,18.6 L517,24.7 L519.7,18.6 L519.7,28.4"/>
<path d="M523.4,22.1 L527.4,22.1 L528.2,23.3 L528.2,28.4"/>
<path d="M528.2,24.8 L523.7,24.8 L522.9,26 L522.9,27.4 L523.7,28.4 L527.2,28.4 L528.2,27.2"/>
<path d="M534.1,18.8 L534.1,19.6"/>
<path d="M534.1,22.1 L534.1,28.4"/>
<path d="M540,22.1 L540,28.4"/>
<path d="M540,23.3 L541,22.1 L544.2,22.1 L545.3,23.3 L545.3,28.4"/>
<path d="M557,18.6 L559.6,28.4 L562.3,18.6"/>
<path d="M566,22.1 L570,22.1 L570.8,23.3 L570.8,28.4"/>
<path d="M570.8,24.8 L566.3,24.8 L565.5,26 L565.5,27.4 L566.3,28.4 L569.8,28.4 L570.8,27.2"/>
<path d="M576.7,18.6 L576.7,28.4"/>
<path d="M582.6,22.1 L585.2,28.4 L587.9,22.1"/>
<path d="M591.1,25.1 L596.4,25.1 L596.4,23.3 L595.3,22.1 L592.1,22.1 L591.1,23.3 L591.1,27.2 L592.1,28.4 L595.3,28.4 L596.4,27.4"/>
<path d="M12.3,640.6 L11.2,639.2 L8.1,639.2 L7,640.6 L7,643.6 L8.1,645 L11.2,645 L12.3,646.3 L12.3,649.3 L11.2,650.7 L8.1,650.7 L7,649.3"/>
<path d="M15.5,643.3 L16.7,650.7 L18.1,645.5 L19.6,650.7 L20.8,643.3"/>
<path d="M26.6,639.4 L26.6,640.4"/>
<path d="M26.6,643.3 L26.6,650.7"/>
<path d="M32.5,643.3 L35.1,650.7 L37.8,643.3"/>
<path d="M41,646.8 L46.3,646.8 L46.3,644.7 L45.2,643.3 L42.1,643.3 L41,644.7 L41,649.3 L42.1,650.7 L45.2,650.7 L46.3,649.6"/>
<path d="M52.1,639.2 L52.1,650.7"/>
<path d="M71.8,639.2 L71.8,649.1 L70.7,650.7 L67.6,650.7 L66.5,649.1 L66.5,647.2"/>
<path d="M76.1,643.3 L79.2,643.3 L80.3,645 L80.3,649.1 L79.2,650.7 L76.1,650.7 L75,649.1 L75,645 L76.1,643.3"/>
<path d="M86.2,639.4 L86.2,640.4"/>
<path d="M86.2,643.3 L86.2,650.7"/>
<path d="M92,643.3 L92,650.7"/>
<path d="M92,644.7 L93.1,643.3 L96.2,643.3 L97.3,644.7 L97.3,650.7"/>
<path d="M101.6,641.5 L103.2,640.1 L103.2,650.7"/>
<path d="M604.9,799.2 L606.8,799.2 L607.5,800.1 L607.5,804.5 L606.8,805.4 L604.9,805.4 L604.2,804.5 L604.2,800.1 L604.9,799.2" stroke-width="1.2"/>
<path d="M615.3,799.2 L617.3,799.2 L617.9,800.1 L617.9,804.5 L617.3,805.4 L615.3,805.4 L614.6,804.5 L614.6,800.1 L615.3,799.2" stroke-width="1.2"/>
<path d="M625.7,799.2 L627.7,799.2 L628.4,800.1 L628.4,804.5 L627.7,805.4 L625.7,805.4 L625.1,804.5 L625.1,800.1 L625.7,799.2" stroke-width="1.2"/>
<path d="M636.2,799.2 L638.2,799.2 L638.8,800.1 L638.8,804.5 L638.2,805.4 L636.2,805.4 L635.5,804.5 L635.5,800.1 L636.2,799.2" stroke-width="1.2"/>
<path d="M649.3,799.2 L646,799.2 L646,802 L648.6,802 L649.3,802.9 L649.3,804.5 L648.6,805.4 L646,805.4" stroke-width="1.2"/>
<path d="M659.4,799.2 L657.1,799.2 L656.4,800.4 L656.4,804.5 L657.1,805.4 L659,805.4 L659.7,804.5 L659.7,802.9 L659,802 L656.4,802" stroke-width="1.2"/>
<path d="M667.7,800.4 L668.8,799.2 L668.8,805.4" stroke-width="1.2"/>
<path d="M677.3,799.2 L680.6,799.2 L678.6,805.4" stroke-width="1.2"/>
<path d="M526.5,2.3 Q524,8 520.3,13.8"/>
<path d="M521.2,5.3 L524.7,8.2 L526.7,9.4"/>
<path d="M540.5,1.2 L537.3,5.6 L532.3,9.4"/>
<path d="M537.3,5.6 L537.3,12.6"/>
<path d="M545.2,3.2 L546.7,4.4"/>
<path d="M546.4,13.5 L550.2,10.6 L552.3,4.4"/>
<path d="M559.5,3.2 L557.2,12.3"/>
<path d="M563.3,3.6 L566.6,12.3"/>
<path d="M564.3,1 L564.3,1.8"/>
<path d="M566.6,1 L566.6,1.8"/>
<path d="M572.4,2.3 L572.4,9.7 L571.4,12.3"/>
<path d="M575.3,2.3 L575.3,12.3 L578.5,7.8"/>
<path d="M583,3.2 L590.5,3.2 L590.5,7.1 L585.3,13.6"/>
<path d="M591.5,0.3 L591.5,1.8"/>
<path d="M2.2,624.3 L9.3,624.3 Q6,630 2.2,633.5"/>
<path d="M5.7,629.5 L8.8,632.6"/>
<path d="M22.5,621.6 L18.9,626 L14.5,629.5"/>
<path d="M18.9,626 L18.9,632.6"/>
<path d="M27.3,628.7 L30,624.7 L34.8,632.2"/>
<path d="M33.5,623.3 L34,624.3"/>
<path d="M35.3,622.6 L35.8,623.6"/>
<path d="M42.2,623 L42.2,630.1 L39.2,633.6"/>
<path d="M44.5,622.2 L44.5,633.3 L48.6,627.2"/>
<path d="M53.3,623.3 L55.4,624.5"/>
<path d="M52.2,627.2 L54.8,627.2"/>
<path d="M53,633.3 L55.4,633.3 L60.7,626.3"/>
<path d="M59.5,621.3 L59.5,622.8"/>
<path d="M61.6,621.3 L61.6,622.8"/>
<path d="M67.1,626.3 L71.5,626.3 L71.5,633.3 L67.1,633.3"/>
<path d="M67.1,629.2 L71.5,629.2"/>
<path d="M85.6,621.2 L82.5,625.6 L78,629.5"/>
<path d="M82.5,625.6 L82.5,632.6"/>
<path d="M91.3,623.8 L93.5,626"/>
<path d="M91.3,633.5 L94,632 L98.8,624.7"/>
<path d="M106.3,621.2 L106.3,632.6"/>
<path d="M106.7,626.5 L109.8,630"/>
</g></svg></body></html>
